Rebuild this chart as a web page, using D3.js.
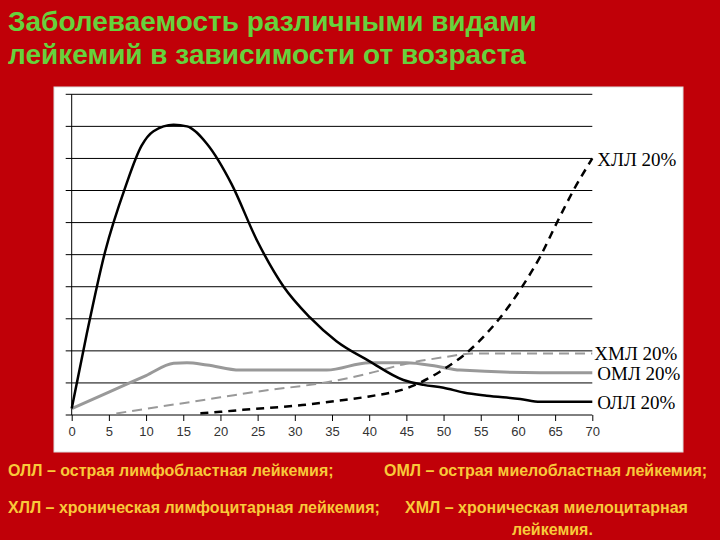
<!DOCTYPE html>
<html>
<head>
<meta charset="utf-8">
<script src="https://cdn.jsdelivr.net/npm/d3@7"></script>
<style>
  body { margin: 0; background: #c00008; }
  svg { display: block; }
</style>
</head>
<body>
<div id="chart"></div>
<script>
// ages (x) and incidence (grid units)
var ollAge = [0, 2, 4.5, 7.2, 9.4, 11, 13.7, 15.5, 18.2, 21.5, 24.9, 28.5, 32, 35.6, 40, 44.6, 47.3, 50, 52.7, 55.8, 60.3, 63, 70];
var ollVal = [0.2, 2.5, 5.1, 7.1, 8.4, 8.85, 9.05, 9.0, 8.45, 7.2, 5.45, 4.0, 3.05, 2.3, 1.68, 1.09, 0.94, 0.85, 0.7, 0.6, 0.5, 0.41, 0.41];

var omlAge = [0, 5, 10, 13.7, 15.5, 18.2, 22.6, 34.3, 40, 45, 49.1, 52.2, 63, 70];
var omlVal = [0.2, 0.71, 1.23, 1.61, 1.63, 1.56, 1.4, 1.4, 1.63, 1.63, 1.52, 1.4, 1.32, 1.32];

var hmlAge = [6, 20, 25, 35, 40, 45, 50, 54, 70];
var hmlVal = [0.05, 0.55, 0.73, 1.05, 1.3, 1.6, 1.8, 1.92, 1.92];

var hllAge = [17.3, 20, 23, 31, 36, 40, 45, 49.5, 53.8, 56.2, 58.9, 60.7, 63, 65.2, 67.5, 70];
var hllVal = [0.05, 0.1, 0.16, 0.31, 0.45, 0.58, 0.83, 1.35, 2.08, 2.65, 3.43, 4.05, 4.94, 5.98, 7.02, 8.0];

var xTicks = d3.range(0, 71, 5);
var yTicks = d3.range(0, 11, 1);

var titleLines = ["Заболеваемость различными видами", "лейкемий в зависимости от возраста"];
var notes = [
    { text: "ОЛЛ – острая лимфобластная лейкемия;", x: 8, y: 476 },
    { text: "ОМЛ – острая миелобластная лейкемия;", x: 384, y: 476 },
    { text: "ХЛЛ – хроническая лимфоцитарная лейкемия;", x: 8, y: 513 },
    { text: "ХМЛ – хроническая миелоцитарная", x: 405, y: 513 },
    { text: "лейкемия.", x: 512, y: 535 }
];

var width = 720, height = 540;

var svg = d3.select("#chart").append("svg")
    .attr("width", width)
    .attr("height", height);

svg.append("rect")
    .attr("width", width).attr("height", height)
    .attr("fill", "#c00008");

// title
svg.append("g").selectAll("text")
    .data(titleLines)
    .join("text")
    .attr("x", 8)
    .attr("y", (d, i) => 31 + i * 33)
    .attr("fill", "#66d23c")
    .attr("font-family", "Liberation Sans, Arial, sans-serif")
    .attr("font-weight", "bold")
    .attr("font-size", 28)
    .text(d => d);

// white plot panel
svg.append("rect")
    .attr("x", 54).attr("y", 87)
    .attr("width", 629).attr("height", 365)
    .attr("fill", "#fff")
    .attr("stroke", "#ddd");

var x = d3.scaleLinear([0, 70], [71.7, 592.3]);
var y = d3.scaleLinear([0, 10], [415, 94.3]);

// horizontal grid
svg.append("g")
    .selectAll("line")
    .data(yTicks)
    .join("line")
    .attr("x1", x(0) - 6).attr("x2", x(70))
    .attr("y1", d => y(d)).attr("y2", d => y(d))
    .attr("stroke", "#000")
    .attr("stroke-width", 1);

// y axis line
svg.append("line")
    .attr("x1", x(0)).attr("x2", x(0))
    .attr("y1", y(0)).attr("y2", y(10))
    .attr("stroke", "#000");

// x axis
var xAxis = svg.append("g")
    .attr("transform", `translate(0,${y(0)})`)
    .call(d3.axisBottom(x).tickValues(xTicks).tickSize(6).tickPadding(6).tickFormat(d3.format("d")));
xAxis.select(".domain").remove();
xAxis.selectAll("text")
    .attr("font-family", "Liberation Sans, Arial, sans-serif")
    .attr("font-size", 13)
    .attr("fill", "#333");

var line = d3.line()
    .x(d => x(d[0]))
    .y(d => y(d[1]))
    .curve(d3.curveMonotoneX);

function series(ages, vals) {
    return ages.map((a, i) => [a, vals[i]]);
}

svg.append("path")
    .datum(series(hmlAge, hmlVal))
    .attr("d", line)
    .attr("fill", "none")
    .attr("stroke", "#999")
    .attr("stroke-width", 2)
    .attr("stroke-dasharray", "10,6");

svg.append("path")
    .datum(series(omlAge, omlVal))
    .attr("d", line)
    .attr("fill", "none")
    .attr("stroke", "#999")
    .attr("stroke-width", 3);

svg.append("path")
    .datum(series(ollAge, ollVal))
    .attr("d", line)
    .attr("fill", "none")
    .attr("stroke", "#000")
    .attr("stroke-width", 2.5);

svg.append("path")
    .datum(series(hllAge, hllVal))
    .attr("d", line)
    .attr("fill", "none")
    .attr("stroke", "#000")
    .attr("stroke-width", 2.5)
    .attr("stroke-dasharray", "8,6");

// end labels
var endLabels = [
    { name: "ХЛЛ 20%", v: hllVal[hllVal.length - 1], dy: 8, dx: 5 },
    { name: "ХМЛ 20%", v: hmlVal[hmlVal.length - 1], dy: 7, dx: 2 },
    { name: "ОМЛ 20%", v: omlVal[omlVal.length - 1], dy: 7, dx: 5 },
    { name: "ОЛЛ 20%", v: ollVal[ollVal.length - 1], dy: 7, dx: 5 }
];
svg.append("g").selectAll("text")
    .data(endLabels)
    .join("text")
    .attr("x", d => x(70) + d.dx)
    .attr("y", d => y(d.v) + d.dy)
    .attr("font-family", "Liberation Serif, Times New Roman, serif")
    .attr("font-size", 19)
    .attr("fill", "#000")
    .text(d => d.name);

// notes at the bottom
svg.append("g").selectAll("text")
    .data(notes)
    .join("text")
    .attr("x", d => d.x)
    .attr("y", d => d.y)
    .attr("fill", "#f8c93a")
    .attr("font-family", "Liberation Sans, Arial, sans-serif")
    .attr("font-weight", "bold")
    .attr("font-size", 16)
    .text(d => d.text);
</script>
</body>
</html>
